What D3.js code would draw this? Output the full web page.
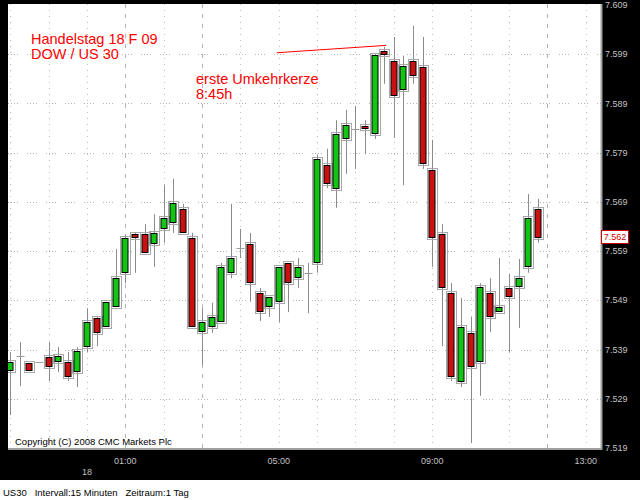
<!DOCTYPE html>
<html>
<head>
<meta charset="utf-8">
<script src="https://cdn.jsdelivr.net/npm/d3@7"></script>
<style>
  body { margin: 0; background: #fff; }
  svg { display: block; }
</style>
</head>
<body>
<svg width="640" height="500"></svg>
<script>
// 15 minute candles, US30 (Dow), 17/18 Feb 2009
const times = [
  "22:00","22:15","22:30","22:45","23:00","23:15","23:30","23:45",
  "00:00","00:15","00:30","00:45","01:00","01:15","01:30","01:45",
  "02:00","02:15","02:30","02:45","03:00","03:15","03:30","03:45",
  "04:00","04:15","04:30","04:45","05:00","05:15","05:30","05:45",
  "06:00","06:15","06:30","06:45","07:00","07:15","07:30","07:45",
  "08:00","08:15","08:30","08:45","09:00","09:15","09:30","09:45",
  "10:00","10:15","10:30","10:45","11:00","11:15","11:30","11:45"
]
const open = [
  7534.6, 7537.7, 7536.3, 7536.5, 7537.5, 7536.5, 7536.5, 7534.4,
  7539.5, 7545.4, 7543.6, 7547.7, 7554.6, 7562.5, 7562.5, 7560.5,
  7563.5, 7564.7, 7567.6, 7561.7, 7542.6, 7543.6, 7544.6, 7554.6,
  7559.6, 7560.5, 7550.5, 7547.7, 7548.7, 7556.6, 7553.5, 7554.6,
  7556.6, 7576.5, 7571.6, 7581.8, 7583.8, 7584.4, 7582.8, 7599.7,
  7597.6, 7591.7, 7597.6, 7596.4, 7575.5, 7562.5, 7550.5, 7532.4,
  7542.4, 7536.5, 7550.5, 7546.6, 7551.5, 7551.7, 7555.8, 7567.6
]
const high = [
  7538.5, 7540.5, 7536.3, 7536.5, 7540.5, 7539.5, 7538.5, 7539.5,
  7547.4, 7545.6, 7548.7, 7559.4, 7562.3, 7562.7, 7564.5, 7566.5,
  7572.4, 7573.7, 7568.6, 7562.7, 7547.4, 7548.5, 7556.6, 7568.6,
  7563.5, 7562.7, 7551.5, 7549.7, 7555.8, 7556.6, 7557.6, 7556.6,
  7578.5, 7579.8, 7585.6, 7587.7, 7588.5, 7585.6, 7598.9, 7600.5,
  7602.5, 7598.7, 7604.8, 7602.5, 7581.6, 7564.5, 7552.5, 7549.5,
  7545.6, 7552.5, 7553.5, 7557.6, 7554.4, 7557.4, 7570.6, 7569.6
]
const low = [
  7525.7, 7531.6, 7534.6, 7536.5, 7532.6, 7534.4, 7532.6, 7531.4,
  7538.5, 7539.7, 7543.6, 7547.7, 7552.5, 7554.6, 7558.6, 7555.8,
  7560.7, 7562.7, 7562.7, 7543.6, 7535.9, 7542.4, 7544.6, 7553.5,
  7557.6, 7548.7, 7544.8, 7545.6, 7544.6, 7546.6, 7551.5, 7546.4,
  7554.6, 7571.8, 7567.8, 7574.7, 7575.7, 7578.7, 7581.8, 7593.0,
  7582.0, 7572.4, 7593.0, 7575.7, 7555.8, 7539.7, 7532.6, 7531.4,
  7520.0, 7529.6, 7542.6, 7546.6, 7538.5, 7543.4, 7554.6, 7560.7
]
const close = [
  7536.5, 7537.7, 7534.6, 7536.5, 7535.5, 7537.7, 7533.4, 7538.7,
  7544.6, 7542.4, 7548.7, 7553.5, 7561.7, 7561.7, 7558.6, 7562.7,
  7565.7, 7568.8, 7562.7, 7543.6, 7544.6, 7545.6, 7555.8, 7557.6,
  7559.6, 7552.5, 7546.6, 7549.7, 7555.8, 7552.5, 7555.8, 7554.6,
  7577.7, 7572.6, 7582.8, 7584.6, 7583.8, 7583.8, 7598.9, 7598.9,
  7590.5, 7596.6, 7594.6, 7576.7, 7561.7, 7551.5, 7533.4, 7543.6,
  7535.5, 7551.7, 7545.6, 7547.7, 7549.7, 7553.5, 7565.7, 7561.7
]
const priceTicks = [7519, 7529, 7539, 7549, 7559, 7569, 7579, 7589, 7599, 7609]
const timeLabels = ["01:00", "05:00", "09:00", "13:00"]
const dashedHours = ["01:00", "03:00", "12:00"]
const dayLabel = "18"
// red marker line drawn by hand, from left to the top of the reversal candle
const noteLine = [{t: "04:57", p: 7599.3}, {t: "07:48", p: 7600.8}]

const parseT = s => {
  const h = +s.slice(0, 2), m = +s.slice(3, 5)
  return h >= 20 ? new Date(2009, 1, 17, h, m) : new Date(2009, 1, 18, h, m)
}

const candles = times.map((t, i) => ({
  t: parseT(t), o: open[i], h: high[i], l: low[i], c: close[i]
}))

const svg = d3.select("svg")
const W = 640, H = 500
const plot = {left: 8, right: 601, top: 4, bottom: 449}

// background
svg.append("rect").attr("width", W).attr("height", 480).attr("fill", "#000")
svg.append("rect").attr("y", 480).attr("width", W).attr("height", 20).attr("fill", "#fff")
svg.append("rect")
  .attr("x", plot.left).attr("y", plot.top)
  .attr("width", plot.right - plot.left).attr("height", plot.bottom - plot.top)
  .attr("fill", "#fff")

const x = d3.scaleTime()
  .domain([new Date(2009, 1, 17, 21, 56, 30), new Date(2009, 1, 18, 13, 24)])
  .range([plot.left, plot.right])
const y = d3.scaleLinear().domain([7519, 7609]).range([448, 5])

svg.append("clipPath").attr("id", "clip")
  .append("rect")
  .attr("x", plot.left).attr("y", plot.top)
  .attr("width", plot.right - plot.left).attr("height", plot.bottom - plot.top)

const g = svg.append("g").attr("clip-path", "url(#clip)")

// grid
const hours = x.ticks(d3.timeHour.every(1))
const fmt = d3.timeFormat("%H:%M")
g.append("g").selectAll("line")
  .data(hours)
  .join("line")
  .attr("x1", d => Math.round(x(d)) + 0.5).attr("x2", d => Math.round(x(d)) + 0.5)
  .attr("y1", plot.top).attr("y2", plot.bottom)
  .attr("stroke", d => dashedHours.includes(fmt(d)) ? "#b4b4b4" : "#bdbdbd")
  .attr("stroke-dasharray", d => dashedHours.includes(fmt(d)) ? "4,6" : "1,5")

g.append("g").selectAll("line")
  .data(priceTicks.slice(1, -1))
  .join("line")
  .attr("x1", plot.left).attr("x2", plot.right)
  .attr("y1", d => Math.round(y(d)) + 0.5).attr("y2", d => Math.round(y(d)) + 0.5)
  .attr("stroke", "#b4b4b4")
  .attr("stroke-dasharray", "1,2,1,2,1,2,1,9")

// candles
const bw = 7
const cg = g.append("g")
candles.forEach(d => {
  const cx = Math.round(x(d.t)) + 0.5
  cg.append("line")
    .attr("x1", cx).attr("x2", cx)
    .attr("y1", y(d.h)).attr("y2", y(d.l))
    .attr("stroke", "#8a8a8a")
  if (d.o === d.c) {
    cg.append("line")
      .attr("x1", cx - 4).attr("x2", cx + 4)
      .attr("y1", Math.round(y(d.o)) + 0.5).attr("y2", Math.round(y(d.o)) + 0.5)
      .attr("stroke", "#9a9a9a")
    return
  }
  const top = Math.round(y(Math.max(d.o, d.c)))
  const bot = Math.round(y(Math.min(d.o, d.c)))
  cg.append("rect")
    .attr("x", cx - bw / 2 - 1.5).attr("y", top - 1.5)
    .attr("width", bw + 3).attr("height", bot - top + 3)
    .attr("fill", "none").attr("stroke", "#a8a8a8")
  cg.append("rect")
    .attr("x", cx - bw / 2 - 0.5 + 0.5).attr("y", top + 0.5)
    .attr("width", bw - 1).attr("height", Math.max(1, bot - top - 1))
    .attr("fill", d.c > d.o ? "#14c414" : "#c81212")
    .attr("stroke", "#000")
})

// plot frame (right / bottom)
svg.append("line").attr("x1", plot.right + 0.5).attr("x2", plot.right + 0.5)
  .attr("y1", plot.top).attr("y2", plot.bottom + 1)
  .attr("stroke", "#a0a0a0").attr("stroke-width", 2)
svg.append("line").attr("x1", plot.left).attr("x2", plot.right + 1)
  .attr("y1", plot.bottom).attr("y2", plot.bottom)
  .attr("stroke", "#a0a0a0").attr("stroke-width", 2)

// price axis
const pfmt = v => (v / 1000).toFixed(3)
svg.append("g").selectAll("text")
  .data(priceTicks)
  .join("text")
  .attr("x", 605).attr("y", d => y(d))
  .attr("dy", "0.35em")
  .attr("fill", "#c0c0c0")
  .attr("font-family", "Liberation Sans, Arial, sans-serif")
  .attr("font-size", "9px")
  .text(pfmt)

// time axis
svg.append("g").selectAll("text")
  .data(hours.filter(d => timeLabels.includes(fmt(d))))
  .join("text")
  .attr("x", d => x(d)).attr("y", 461)
  .attr("dy", "0.35em")
  .attr("text-anchor", "middle")
  .attr("fill", "#c0c0c0")
  .attr("font-family", "Liberation Sans, Arial, sans-serif")
  .attr("font-size", "9px")
  .text(fmt)
svg.append("text")
  .attr("x", x(new Date(2009, 1, 18, 0, 0))).attr("y", 472)
  .attr("dy", "0.35em")
  .attr("text-anchor", "middle")
  .attr("fill", "#c0c0c0")
  .attr("font-family", "Liberation Sans, Arial, sans-serif")
  .attr("font-size", "9px")
  .text(dayLabel)

// current price box
const last = close[close.length - 1]
const ly = Math.round(y(last)) - 1
svg.append("rect")
  .attr("x", 601.5).attr("y", ly - 6.5)
  .attr("width", 27).attr("height", 13)
  .attr("fill", "#fff").attr("stroke", "#d00000")
svg.append("text")
  .attr("x", 615).attr("y", ly)
  .attr("dy", "0.35em")
  .attr("text-anchor", "middle")
  .attr("fill", "#d00000")
  .attr("font-family", "Liberation Sans, Arial, sans-serif")
  .attr("font-size", "9px")
  .text(pfmt(Math.round(last)))

// annotations
const red = "#ff0000"
const ann = svg.append("g")
  .attr("fill", red)
  .attr("font-family", "Liberation Sans, Arial, sans-serif")
  .attr("font-size", "14.5px")
ann.append("text").attr("x", 31).attr("y", 44).text("Handelstag 18 F 09")
ann.append("text").attr("x", 31).attr("y", 59).text("DOW / US 30")
ann.append("text").attr("x", 196).attr("y", 84).text("erste Umkehrkerze")
ann.append("text").attr("x", 196).attr("y", 99).text("8:45h")

svg.append("path")
  .datum(noteLine)
  .attr("d", d3.line().x(d => x(parseT(d.t))).y(d => y(d.p)))
  .attr("fill", "none")
  .attr("stroke", red)
  .attr("stroke-width", 1)

// copyright and footer
svg.append("text")
  .attr("x", 15).attr("y", 445)
  .attr("fill", "#000")
  .attr("font-family", "Liberation Sans, Arial, sans-serif")
  .attr("font-size", "9.5px")
  .text("Copyright (C) 2008 CMC Markets Plc")
svg.append("text")
  .attr("x", 3).attr("y", 496)
  .attr("fill", "#000")
  .attr("font-family", "Liberation Sans, Arial, sans-serif")
  .attr("font-size", "9.5px")
  .attr("xml:space", "preserve")
  .text("US30   Intervall:15 Minuten   Zeitraum:1 Tag")
</script>
</body>
</html>
